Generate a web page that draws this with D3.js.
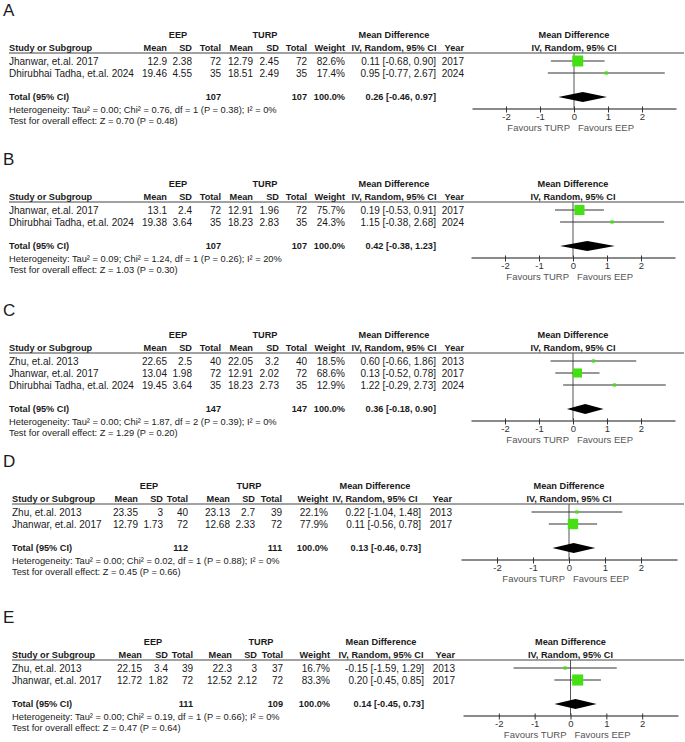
<!DOCTYPE html>
<html>
<head>
<meta charset="utf-8">
<script src="https://cdn.jsdelivr.net/npm/d3@7"></script>
<style>
  body { margin: 0; background: #fff; }
  svg text { font-family: "Liberation Sans", Arial, sans-serif; fill: #1a1a1a; }
</style>
</head>
<body>
<div id="chart"></div>
<script>
// ---- data (one entry per panel A..E) ----
const panelLabels = ["A", "B", "C", "D", "E"];

const studies = [
  ["Jhanwar, et.al. 2017", "Dhirubhai Tadha, et.al. 2024"],
  ["Jhanwar, et.al. 2017", "Dhirubhai Tadha, et.al. 2024"],
  ["Zhu, et.al. 2013", "Jhanwar, et.al. 2017", "Dhirubhai Tadha, et.al. 2024"],
  ["Zhu, et.al. 2013", "Jhanwar, et.al. 2017"],
  ["Zhu, et.al. 2013", "Jhanwar, et.al. 2017"]
];
const years = [
  [2017, 2024], [2017, 2024], [2013, 2017, 2024], [2013, 2017], [2013, 2017]
];

const eepMean = [[12.9, 19.46], [13.1, 19.38], [22.65, 13.04, 19.45], [23.35, 12.79], [22.15, 12.72]];
const eepSD   = [[2.38, 4.55], [2.4, 3.64], [2.5, 1.98, 3.64], [3, 1.73], [3.4, 1.82]];
const eepN    = [[72, 35], [72, 35], [40, 72, 35], [40, 72], [39, 72]];
const turpMean = [[12.79, 18.51], [12.91, 18.23], [22.05, 12.91, 18.23], [23.13, 12.68], [22.3, 12.52]];
const turpSD   = [[2.45, 2.49], [1.96, 2.83], [3.2, 2.02, 2.73], [2.7, 2.33], [3, 2.12]];
const turpN    = [[72, 35], [72, 35], [40, 72, 35], [39, 72], [37, 72]];
const weights  = [[82.6, 17.4], [75.7, 24.3], [18.5, 68.6, 12.9], [22.1, 77.9], [16.7, 83.3]];

const md   = [[0.11, 0.95], [0.19, 1.15], [0.60, 0.13, 1.22], [0.22, 0.11], [-0.15, 0.20]];
const ciLo = [[-0.68, -0.77], [-0.53, -0.38], [-0.66, -0.52, -0.29], [-1.04, -0.56], [-1.59, -0.45]];
const ciHi = [[0.90, 2.67], [0.91, 2.68], [1.86, 0.78, 2.73], [1.48, 0.78], [1.29, 0.85]];

const eepTotal  = [107, 107, 147, 112, 111];
const turpTotal = [107, 107, 147, 111, 109];
const pooledMD = [0.26, 0.42, 0.36, 0.13, 0.14];
const pooledLo = [-0.46, -0.38, -0.18, -0.46, -0.45];
const pooledHi = [0.97, 1.23, 0.90, 0.73, 0.73];

const tau2 = ["0.00", "0.09", "0.00", "0.00", "0.00"];
const chi2 = ["0.76", "1.24", "1.87", "0.02", "0.19"];
const hetDf = [1, 1, 2, 1, 1];
const hetP = ["0.38", "0.26", "0.39", "0.88", "0.66"];
const i2 = ["0%", "20%", "0%", "0%", "0%"];
const zVal = ["0.70", "1.03", "1.29", "0.45", "0.47"];
const zP = ["0.48", "0.30", "0.20", "0.66", "0.64"];

const axisTicks = [-2, -1, 0, 1, 2];

// ---- layout (pixel positions per panel) ----
const wideCols = {
  study: 9, meanE: 167, sdE: 192, nE: 221, meanT: 253, sdT: 279, nT: 307,
  weight: 345, ci: 436, year: 464, eep: 178, turp: 265, mdHead: 394
};
const layouts = [
  { top: 35, cols: wideCols, plot: [472, 676] },
  { top: 184, cols: wideCols, plot: [471, 675] },
  { top: 335, cols: wideCols, plot: [471, 675] },
  { top: 486, plot: [461, 677], cols: {
      study: 12, meanE: 138, sdE: 163, nE: 188, meanT: 230, sdT: 255, nT: 282,
      weight: 328, ci: 421, year: 452, eep: 149, turp: 249, mdHead: 375 } },
  { top: 642, plot: [463, 678], cols: {
      study: 12, meanE: 142, sdE: 168, nE: 193, meanT: 232, sdT: 257, nT: 283,
      weight: 330, ci: 424, year: 455, eep: 153, turp: 261, mdHead: 381 } }
];

const width = 685, height = 742;
// hyphen minus like RevMan, not the unicode minus
const locale = d3.formatLocale({
  decimal: ".", thousands: ",", grouping: [3], currency: ["", ""], minus: "-"
});
const fmt2 = locale.format(".2f");
const fmtW = locale.format(".1f");
const fmtTick = locale.format("d");
const ciText = (m, lo, hi) => `${fmt2(m)} [${fmt2(lo)}, ${fmt2(hi)}]`;

const svg = d3.select("#chart").append("svg")
  .attr("width", width)
  .attr("height", height);

const boxSize = d3.scaleLinear().domain([0, 100]).range([0, 13.3]);

panelLabels.forEach((label, p) => {
  const L = layouts[p];
  const c = L.cols;
  const g = svg.append("g").attr("class", `panel-${label}`);
  const x = d3.scaleLinear().domain([-3, 3]).range(L.plot);

  const yHead1 = L.top;
  const yHead2 = L.top + 13;
  const yLine = L.top + 18;
  const yRow = i => L.top + 26 + 12 * i;
  const n = studies[p].length;
  const yTotal = yRow(n - 1) + 24;
  const yHet = yTotal + 13;
  const yTest = yHet + 11;
  const yAxis = yTotal + 11.5;

  const txt = (xx, yy, s, anchor = "start", opts = {}) =>
    g.append("text")
      .attr("x", xx).attr("y", yy).attr("dy", "0.35em")
      .attr("text-anchor", anchor)
      .style("font-size", (opts.size || 10) + "px")
      .style("font-weight", opts.bold ? "bold" : "normal")
      .style("fill", opts.fill || "#1a1a1a")
      .text(s);

  // panel letter
  txt(3, L.top - 25, label, "start", { size: 17 });

  // headers
  const B = { bold: true, size: 9.2 };
  txt(c.eep, yHead1, "EEP", "middle", B);
  txt(c.turp, yHead1, "TURP", "middle", B);
  txt(c.mdHead, yHead1, "Mean Difference", "middle", B);
  txt(x(0), yHead1, "Mean Difference", "middle", B);
  txt(c.study, yHead2, "Study or Subgroup", "start", B);
  txt(c.meanE, yHead2, "Mean", "end", B);
  txt(c.sdE, yHead2, "SD", "end", B);
  txt(c.nE, yHead2, "Total", "end", B);
  txt(c.meanT, yHead2, "Mean", "end", B);
  txt(c.sdT, yHead2, "SD", "end", B);
  txt(c.nT, yHead2, "Total", "end", B);
  txt(c.weight, yHead2, "Weight", "end", B);
  txt(c.mdHead, yHead2, "IV, Random, 95% CI", "middle", B);
  txt(c.year, yHead2, "Year", "end", B);
  txt(x(0), yHead2, "IV, Random, 95% CI", "middle", B);

  g.append("line")
    .attr("x1", c.study).attr("x2", 684)
    .attr("y1", yLine).attr("y2", yLine)
    .attr("stroke", "#444").attr("stroke-width", 1);

  // study rows
  studies[p].forEach((s, i) => {
    const y = yRow(i);
    txt(c.study, y, s);
    txt(c.meanE, y, String(eepMean[p][i]), "end");
    txt(c.sdE, y, String(eepSD[p][i]), "end");
    txt(c.nE, y, String(eepN[p][i]), "end");
    txt(c.meanT, y, String(turpMean[p][i]), "end");
    txt(c.sdT, y, String(turpSD[p][i]), "end");
    txt(c.nT, y, String(turpN[p][i]), "end");
    txt(c.weight, y, fmtW(weights[p][i]) + "%", "end");
    txt(c.ci, y, ciText(md[p][i], ciLo[p][i], ciHi[p][i]), "end");
    txt(c.year, y, String(years[p][i]), "end");
  });

  // total row
  txt(c.study, yTotal, "Total (95% CI)", "start", B);
  txt(c.nE, yTotal, String(eepTotal[p]), "end", B);
  txt(c.nT, yTotal, String(turpTotal[p]), "end", B);
  txt(c.weight, yTotal, "100.0%", "end", B);
  txt(c.ci, yTotal, ciText(pooledMD[p], pooledLo[p], pooledHi[p]), "end", B);

  const small = { size: 9.3 };
  txt(c.study, yHet,
    `Heterogeneity: Tau² = ${tau2[p]}; Chi² = ${chi2[p]}, df = ${hetDf[p]} (P = ${hetP[p]}); I² = ${i2[p]}`,
    "start", small);
  txt(c.study, yTest, `Test for overall effect: Z = ${zVal[p]} (P = ${zP[p]})`, "start", small);

  // zero line
  g.append("line")
    .attr("x1", x(0)).attr("x2", x(0))
    .attr("y1", yLine).attr("y2", yAxis)
    .attr("stroke", "#555").attr("stroke-width", 1);

  // CI whiskers and squares
  studies[p].forEach((s, i) => {
    const y = yRow(i);
    g.append("line")
      .attr("x1", x(ciLo[p][i])).attr("x2", x(ciHi[p][i]))
      .attr("y1", y).attr("y2", y)
      .attr("stroke", "#333").attr("stroke-width", 1);
    const sz = Math.max(3.2, boxSize(weights[p][i]));
    g.append("rect")
      .attr("x", x(md[p][i]) - sz / 2).attr("y", y - sz / 2)
      .attr("width", sz).attr("height", sz)
      .attr("fill", "#44e014");
  });

  // pooled diamond
  const h = 5;
  g.append("path")
    .attr("d", `M${x(pooledLo[p])},${yTotal} L${x(pooledMD[p])},${yTotal - h} ` +
      `L${x(pooledHi[p])},${yTotal} L${x(pooledMD[p])},${yTotal + h} Z`)
    .attr("fill", "#000");

  // axis
  const axis = g.append("g")
    .attr("transform", `translate(0,${yAxis})`)
    .call(d3.axisBottom(x).tickValues(axisTicks).tickFormat(fmtTick)
      .tickSize(4).tickSizeOuter(0).tickPadding(1));
  axis.select(".domain").attr("stroke", "#8a8a8a").attr("stroke-width", 2);
  axis.selectAll(".tick line").attr("y1", -2).attr("stroke", "#333");
  axis.selectAll(".tick text")
    .style("font-size", "9.5px")
    .style("fill", "#333")
    .style("font-family", "'Liberation Sans', Arial, sans-serif");

  txt(x(0) - 4, yAxis + 19, "Favours TURP", "end", { size: 9.5, fill: "#555" });
  txt(x(0) + 4, yAxis + 19, "Favours EEP", "start", { size: 9.5, fill: "#555" });
});
</script>
</body>
</html>
